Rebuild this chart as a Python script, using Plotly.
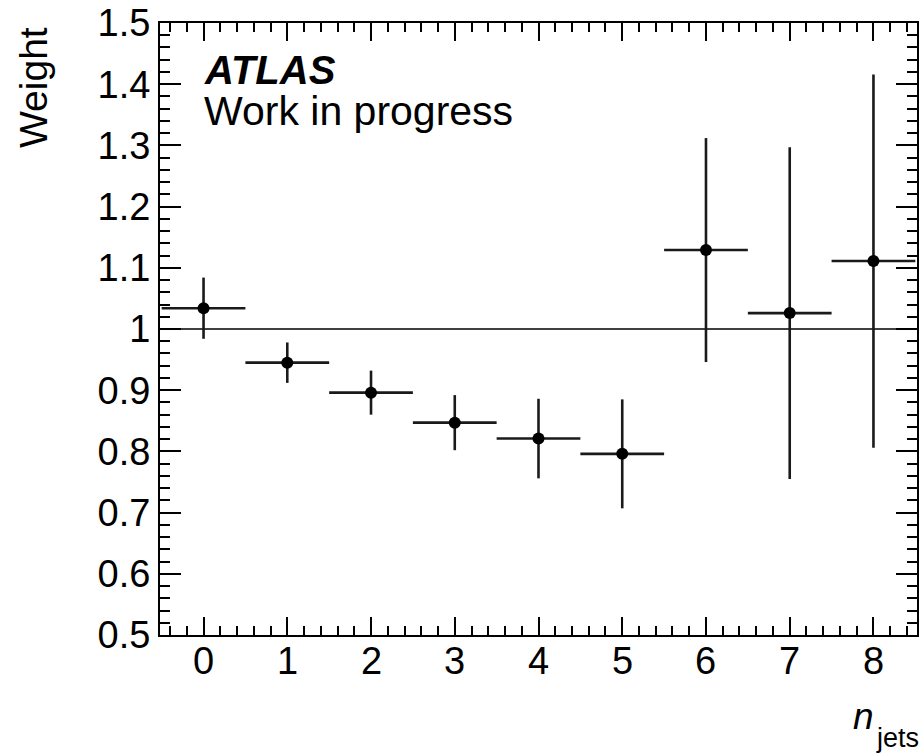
import plotly.graph_objects as go

# Reweighting factors per jet multiplicity
n_jets = [0, 1, 2, 3, 4, 5, 6, 7, 8]
weight = [1.034, 0.945, 0.896, 0.847, 0.821, 0.796, 1.129, 1.026, 1.111]
weight_err = [0.050, 0.033, 0.036, 0.045, 0.065, 0.089, 0.183, 0.271, 0.305]
bin_half_width = [0.5] * len(n_jets)

y_tick_vals = [0.5, 0.6, 0.7, 0.8, 0.9, 1.0, 1.1, 1.2, 1.3, 1.4, 1.5]
y_tick_text = ["0.5", "0.6", "0.7", "0.8", "0.9", "1", "1.1", "1.2", "1.3", "1.4", "1.5"]
x_tick_vals = [0, 1, 2, 3, 4, 5, 6, 7, 8]
x_tick_text = ["0", "1", "2", "3", "4", "5", "6", "7", "8"]

W, H = 920, 754
FONT = "Liberation Sans, Arial, Helvetica, sans-serif"
INK = "#000000"

# frame position in pixels
left, right, top, bottom = 160, 917, 23, 635

fig = go.Figure()

fig.add_trace(go.Scatter(
    x=n_jets, y=weight, mode="markers",
    marker=dict(color=INK, size=12),
    error_x=dict(type="data", array=bin_half_width, width=0, thickness=2.6, color="#1a1a1a"),
    error_y=dict(type="data", array=weight_err, width=0, thickness=2.6, color="#1a1a1a"),
    showlegend=False,
))

# reference line at unity
fig.add_shape(type="line", xref="x domain", yref="y", x0=0, x1=1, y0=1, y1=1,
              line=dict(color=INK, width=1.3), layer="below")

axis_common = dict(
    showline=True, linecolor=INK, linewidth=2, mirror="ticks",
    ticks="inside", tickcolor=INK, tickwidth=2,
    showgrid=False, zeroline=False, automargin=False,
    tickfont=dict(family=FONT, size=38, color=INK),
)

fig.update_xaxes(
    range=[-0.52, 8.52], domain=[left / W, right / W],
    tickvals=x_tick_vals, ticklen=18, showticklabels=False,
    minor=dict(dtick=0.2, tick0=0, ticklen=9, tickwidth=2, tickcolor=INK, ticks="inside", showgrid=False),
    **axis_common,
)
fig.update_yaxes(
    range=[0.5, 1.5], domain=[1 - bottom / H, 1 - top / H],
    tickvals=y_tick_vals, ticktext=y_tick_text, ticklen=21,
    minor=dict(dtick=0.02, tick0=0.5, ticklen=10, tickwidth=2, tickcolor=INK, ticks="inside", showgrid=False),
    **axis_common,
)

def px(x, y):
    return x / W, 1 - y / H

annots = []
# x tick labels, set just below the frame
for v, t in zip(x_tick_vals, x_tick_text):
    annots.append(dict(x=v, xref="x", y=1 - 661 / H, yref="paper", text=t,
                       xanchor="center", yanchor="middle",
                       font=dict(family=FONT, size=38, color=INK)))

ax, ay = px(202, 70)
annots.append(dict(x=ax, y=ay, text="<b><i>ATLAS</i></b>", xanchor="left", yanchor="middle",
                   font=dict(family=FONT, size=40, color=INK)))
ax, ay = px(202, 111)
annots.append(dict(x=ax, y=ay, text="Work in progress", xanchor="left", yanchor="middle",
                   font=dict(family=FONT, size=41, color=INK)))
ax, ay = px(33, 88)
annots.append(dict(x=ax, y=ay, text="Weight", textangle=-90, xanchor="center", yanchor="middle",
                   font=dict(family=FONT, size=39, color=INK)))
# x-axis title: italic n with subscript "jets"
ax, ay = px(851, 716)
annots.append(dict(x=ax, y=ay, text="<i>n</i>", xanchor="left", yanchor="middle",
                   font=dict(family=FONT, size=37, color=INK)))
ax, ay = px(874, 738)
annots.append(dict(x=ax, y=ay, text="jets", xanchor="left", yanchor="middle",
                   font=dict(family=FONT, size=27, color=INK)))
for a in annots:
    a.setdefault("xref", "paper")
    a.setdefault("yref", "paper")
    a["showarrow"] = False

fig.update_layout(
    width=W, height=H,
    margin=dict(l=0, r=0, t=0, b=0, autoexpand=False),
    paper_bgcolor="white", plot_bgcolor="white",
    annotations=annots,
)

fig.write_html("out.html")
